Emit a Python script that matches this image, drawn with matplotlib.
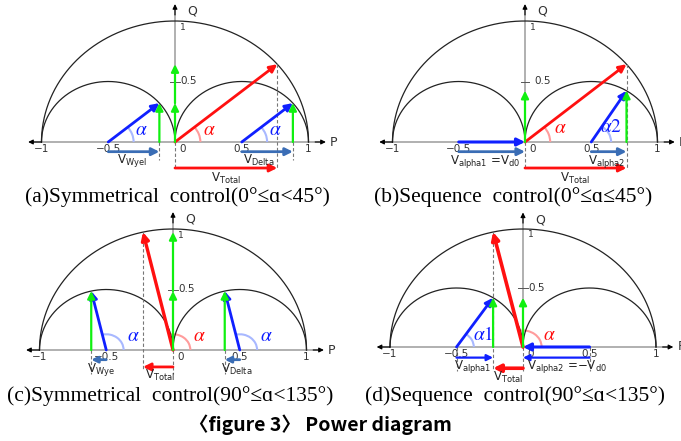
import numpy as np
import matplotlib
matplotlib.use("Agg")
import matplotlib.pyplot as plt
from matplotlib.patches import Arc

# angles (degrees)
alpha_a = 40      # symmetrical, 0..45
alpha_b = 40      # sequence, 0..45
alpha_c = 103     # symmetrical, 90..135
alpha_d = 103     # sequence, 90..135

p_ticks = [-1, -0.5, 0, 0.5, 1]
p_labels = ["\u22121", "\u22120.5", "0", "0.5", "1"]

captions = ["(a)Symmetrical  control(0°≤ɑ<45°)",
            "(b)Sequence  control(0°≤ɑ≤45°)",
            "(c)Symmetrical  control(90°≤ɑ<135°)",
            "(d)Sequence  control(90°≤ɑ<135°)"]
title = "〈figure 3〉 Power diagram"

RED = "#ff1010"
BLUE = "#1020ff"
GREEN = "#10f010"
STEEL = "#3a6db5"
LBLUE = "#a8b8ff"
LRED = "#ff9c9c"
GRAY = "#aaaaaa"

W, H = 681, 441
fig = plt.figure(figsize=(W / 100, H / 100), dpi=100)
plt.rcParams["mathtext.fontset"] = "dejavusans"

XL, XR, YB, YT = -1.3, 1.3, -0.45, 1.2


def make_axes(ox, oy, sx, sy):
    left = ox + XL * sx
    width = (XR - XL) * sx
    top = oy - YT * sy
    height = (YT - YB) * sy
    ax = fig.add_axes([left / W, 1 - (top + height) / H, width / W, height / H])
    ax.set_xlim(XL, XR)
    ax.set_ylim(YB, YT)
    ax.axis("off")
    return ax


def arrow(ax, x0, y0, x1, y1, color, lw=2.0, ms=11):
    ax.annotate("", xy=(x1, y1), xytext=(x0, y0),
                arrowprops=dict(arrowstyle="-|>", color=color, lw=lw,
                                shrinkA=0, shrinkB=0, mutation_scale=ms),
                annotation_clip=False)


def dashed(ax, x, y0, y1):
    ax.plot([x, x], [y0, y1], color="#777777", lw=0.8, ls=(0, (3, 2)))


def greek(ax, x, y, txt, color):
    ax.text(x, y, txt, color=color, fontsize=14, ha="center", va="center",
            math_fontfamily="stix")


def frame(ax, qtick_gap=False):
    t = np.linspace(0, np.pi, 300)
    ax.plot(np.cos(t), np.sin(t), color="#222222", lw=0.9)
    for c in (-0.5, 0.5):
        ax.plot(c + 0.5 * np.cos(t), 0.5 * np.sin(t), color="#222222", lw=0.9)
    # P axis
    ax.plot([-1.06, 1.09], [0, 0], color=GRAY, lw=1.3, zorder=1)
    arrow(ax, -1.0, 0, -1.1, 0, "black", lw=0.8, ms=7)
    arrow(ax, 1.05, 0, 1.13, 0, "black", lw=0.8, ms=7)
    ax.text(1.16, 0, "P", fontsize=9, color="#333333", va="center", ha="left")
    # Q axis
    ax.plot([0, 0], [0, 1.09], color=GRAY, lw=1.3, zorder=1)
    arrow(ax, 0, 1.05, 0, 1.14, "black", lw=0.8, ms=7)
    ax.text(0.09, 1.08, "Q", fontsize=9, color="#333333", va="center")
    ax.text(0.04, 0.95, "1", fontsize=6.5, color="#333333", va="center")
    if qtick_gap:
        ax.plot([-0.03, 0.03], [0.5, 0.5], color="#555555", lw=0.7)
        ax.text(0.07, 0.5, "0.5", fontsize=7.5, color="#333333", va="center")
    else:
        ax.plot([-0.04, 0.04], [0.5, 0.5], color="#555555", lw=0.7)
        ax.text(0.04, 0.5, "0.5", fontsize=7.5, color="#333333", va="center")
    for x, lab in zip(p_ticks, p_labels):
        ha = "center"
        xx = x
        if x == 0:
            ha, xx = "left", 0.03
        ax.text(xx, -0.02, lab, fontsize=7.5, color="#333333", ha=ha, va="top")


def vlabel(ax, x, y, base, sub, color="#222222", ha="center"):
    ax.text(x, y, base + r"$_{\rm " + sub + "}$", fontsize=8.5, color=color,
            ha=ha, va="center")


# ---------------- (a) ----------------
ax = make_axes(175, 142, 133.5, 121)
frame(ax)
a = np.radians(alpha_a)
c, s = np.cos(a), np.sin(a)
arrow(ax, 0, 0, c, s, RED, lw=2.0)
dashed(ax, c, s, -0.22)
for cx in (-0.5, 0.5):
    tx, ty = cx + 0.5 * c, 0.5 * s
    arrow(ax, cx, 0, tx, ty, BLUE, lw=2.0)
    arrow(ax, tx, 0, tx, ty, GREEN, lw=1.6)
    ax.add_patch(Arc((cx, 0), 0.38, 0.38, theta1=0, theta2=alpha_a, color=LBLUE, lw=1.5))
    greek(ax, cx + 0.25, 0.1, r"$\alpha$", BLUE)
    dashed(ax, tx, 0, -0.15)
    arrow(ax, cx, -0.08, tx, -0.08, STEEL, lw=2.0)
arrow(ax, 0, 0, 0, 0.5 * s, GREEN, lw=1.6)
arrow(ax, 0, 0.5 * s, 0, s, GREEN, lw=1.6)
ax.add_patch(Arc((0, 0), 0.38, 0.38, theta1=0, theta2=alpha_a, color=LRED, lw=1.5))
greek(ax, 0.26, 0.1, r"$\alpha$", RED)
dashed(ax, 0, 0, -0.22)
arrow(ax, 0, -0.215, c, -0.215, RED, lw=2.0)
vlabel(ax, -0.32, -0.155, "V", "Wyel")
vlabel(ax, 0.63, -0.155, "V", "Delta")
vlabel(ax, 0.38, -0.3, "V", "Total")

# ---------------- (b) ----------------
ax = make_axes(525, 142, 132.5, 121)
frame(ax, qtick_gap=True)
a = np.radians(alpha_b)
c, s = np.cos(a), np.sin(a)
arrow(ax, 0, 0, c, s, RED, lw=2.0)
dashed(ax, c, s, -0.22)
a2 = np.arccos((c - 0.5) / 0.5)
ty = 0.5 * np.sin(a2)
arrow(ax, -0.5, 0, 0, 0, BLUE, lw=2.2)
arrow(ax, 0.5, 0, c, ty, BLUE, lw=2.0)
arrow(ax, c, 0, c, ty, GREEN, lw=1.6)
arrow(ax, 0, 0, 0, ty, GREEN, lw=1.6)
ax.add_patch(Arc((0.5, 0), 0.3, 0.3, theta1=0, theta2=np.degrees(a2), color=LBLUE, lw=1.5))
greek(ax, 0.65, 0.13, r"$\alpha\mathit{2}$", BLUE)
ax.add_patch(Arc((0, 0), 0.38, 0.38, theta1=0, theta2=alpha_b, color=LRED, lw=1.5))
greek(ax, 0.27, 0.12, r"$\alpha$", RED)
dashed(ax, 0, 0, -0.22)
arrow(ax, -0.5, -0.08, 0, -0.08, STEEL, lw=2.0)
arrow(ax, 0.5, -0.08, c, -0.08, STEEL, lw=2.0)
arrow(ax, 0, -0.215, c, -0.215, RED, lw=2.0)
ax.text(-0.3, -0.165, r"V$_{\rm alpha1}$ =V$_{\rm d0}$", fontsize=8.5, color="#222222",
        ha="center", va="center")
vlabel(ax, 0.62, -0.16, "V", "alpha2")
vlabel(ax, 0.38, -0.3, "V", "Total")

# ---------------- (c) ----------------
ax = make_axes(173, 350, 133.5, 121)
frame(ax)
a = np.radians(alpha_c)
c, s = np.cos(a), np.sin(a)
arrow(ax, 0, 0, c, s, RED, lw=2.4)
dashed(ax, c, s, -0.16)
for cx in (-0.5, 0.5):
    tx, ty = cx + 0.5 * c, 0.5 * s
    arrow(ax, cx, 0, tx, ty, BLUE, lw=2.0)
    arrow(ax, tx, 0, tx, ty, GREEN, lw=1.6)
    ax.add_patch(Arc((cx, 0), 0.26, 0.26, theta1=0, theta2=alpha_c, color=LBLUE, lw=1.5))
    greek(ax, cx + 0.2, 0.12, r"$\alpha$", BLUE)
    dashed(ax, tx, 0, -0.2)
    arrow(ax, cx, -0.08, tx, -0.08, STEEL, lw=2.0, ms=9)
arrow(ax, 0, 0, 0, 0.5 * s, GREEN, lw=1.6)
arrow(ax, 0, 0.5 * s, 0, s, GREEN, lw=1.6)
ax.add_patch(Arc((0, 0), 0.26, 0.26, theta1=0, theta2=alpha_c, color=LRED, lw=1.5))
greek(ax, 0.2, 0.12, r"$\alpha$", RED)
dashed(ax, 0, 0, -0.2)
arrow(ax, 0, -0.14, c, -0.14, RED, lw=2.0)
vlabel(ax, -0.54, -0.16, "V", "Wye")
vlabel(ax, 0.48, -0.16, "V", "Delta")
vlabel(ax, -0.1, -0.21, "V", "Total")

# ---------------- (d) ----------------
ax = make_axes(523, 347, 133, 118)
frame(ax)
a = np.radians(alpha_d)
c, s = np.cos(a), np.sin(a)
arrow(ax, 0, 0, c, s, RED, lw=2.6)
dashed(ax, c, s, -0.2)
a1 = np.arccos((c + 0.5) / 0.5)
ty = 0.5 * np.sin(a1)
arrow(ax, 0.5, 0, 0, 0, BLUE, lw=2.2)
arrow(ax, -0.5, 0, c, ty, BLUE, lw=2.0)
arrow(ax, c, 0, c, ty, GREEN, lw=1.6)
arrow(ax, 0, 0, 0, ty, GREEN, lw=1.6)
ax.add_patch(Arc((-0.5, 0), 0.26, 0.26, theta1=0, theta2=np.degrees(a1), color=LBLUE, lw=1.5))
greek(ax, -0.3, 0.11, r"$\alpha\mathit{1}$", BLUE)
ax.add_patch(Arc((0, 0), 0.28, 0.28, theta1=0, theta2=alpha_d, color=LRED, lw=1.5))
greek(ax, 0.2, 0.11, r"$\alpha$", RED)
for x in (-0.5, 0, 0.5):
    dashed(ax, x, 0, -0.2)
arrow(ax, -0.5, -0.09, c, -0.09, BLUE, lw=1.6, ms=9)
arrow(ax, 0.5, -0.09, 0, -0.09, BLUE, lw=1.6, ms=9)
arrow(ax, 0, -0.18, c, -0.18, RED, lw=2.6)
vlabel(ax, -0.38, -0.165, "V", "alpha1")
ax.text(0.03, -0.165, r"V$_{\rm alpha2}$ =$-$V$_{\rm d0}$", fontsize=8.5, color="#222222",
        ha="left", va="center")
vlabel(ax, -0.11, -0.26, "V", "Total")

# ---------------- captions ----------------
serif = ["Liberation Serif", "DejaVu Serif"]
for (x, y), txt in zip([(177, 197), (513, 197), (170, 396), (515, 396)], captions):
    fig.text(x / W, 1 - y / H, txt, family=serif, fontsize=15.5, ha="center", va="center")
fig.text(320 / W, 1 - 425 / H, title, family=["Noto Sans CJK KR", "DejaVu Sans"],
         fontsize=14, fontweight="bold", ha="center", va="center")

fig.savefig("out.png", dpi=100)
